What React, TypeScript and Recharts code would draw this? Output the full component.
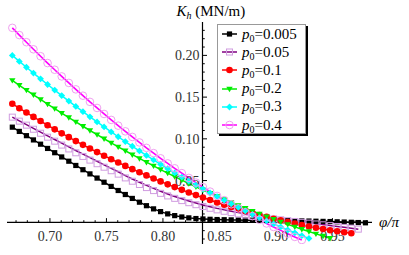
import { LineChart, Line, XAxis, YAxis, ReferenceLine, ReferenceDot, Legend } from 'recharts';

const FONT = '"Liberation Serif", "Times New Roman", serif';

// phi / pi sample positions (one per marker)
const phi = [
  0.6667, 0.6729, 0.6792, 0.6854, 0.6917, 0.6979, 0.7042, 0.7104, 0.7167, 0.7229,
  0.7292, 0.7354, 0.7417, 0.7479, 0.7542, 0.7604, 0.7667, 0.7729, 0.7792, 0.7854,
  0.7917, 0.7979, 0.8042, 0.8104, 0.8167, 0.8229, 0.8292, 0.8354, 0.8417, 0.8479,
  0.8542, 0.8604, 0.8667, 0.8729, 0.8792, 0.8854, 0.8917, 0.8979, 0.9042, 0.9104,
  0.9167, 0.9229, 0.9292, 0.9354, 0.9417, 0.9479, 0.9542, 0.9604, 0.9667, 0.9729, 0.9792,
];

// K_h (MN/m) per p0
const kBlack = [
  0.1140, 0.1089, 0.1038, 0.0987, 0.0936, 0.0885, 0.0834, 0.0783, 0.0732, 0.0681,
  0.0630, 0.0580, 0.0530, 0.0480, 0.0430, 0.0381, 0.0333, 0.0286, 0.0241, 0.0199,
  0.0161, 0.0128, 0.0101, 0.0080, 0.0064, 0.0053, 0.0045, 0.0040, 0.0036, 0.0033,
  0.0031, 0.0029, 0.0027, 0.0026, 0.0025, 0.0024, 0.0023, 0.0022, 0.0021, 0.0020,
  0.0019, 0.0017, 0.0015, 0.0013, 0.0011, 0.0009, 0.0006, 0.0003, 0.0000, -0.0003, -0.0006,
];
const kPurpleLine = [
  0.1260, 0.1215, 0.1170, 0.1125, 0.1080, 0.1036, 0.0992, 0.0948, 0.0904, 0.0860,
  0.0817, 0.0774, 0.0731, 0.0689, 0.0647, 0.0606, 0.0560, 0.0519, 0.0480, 0.0442,
  0.0406, 0.0372, 0.0340, 0.0310, 0.0282, 0.0256, 0.0231, 0.0208, 0.0187, 0.0167,
  0.0149, 0.0132, 0.0116, 0.0101, 0.0087, 0.0074, 0.0062, 0.0050, 0.0039, 0.0028,
  0.0017, 0.0006, -0.0005, -0.0016, -0.0027, -0.0038, -0.0049, -0.0060, -0.0071, -0.0082,
];
const kPurpleDots = [
  0.1260, 0.1212, 0.1164, 0.1115, 0.1067, 0.1020, 0.0972, 0.0925, 0.0879, 0.0833,
  0.0789, 0.0745, 0.0702, 0.0660, 0.0618, 0.0577, 0.0532, 0.0492, 0.0453, 0.0416,
  0.0380, 0.0347, 0.0316, 0.0287, 0.0260, 0.0235, 0.0211, 0.0189, 0.0168, 0.0149,
  0.0132, 0.0116, 0.0101, 0.0087, 0.0074, 0.0062, 0.0051, 0.0040, 0.0030, 0.0020,
  0.0010, 0.0000, -0.0010, -0.0020, -0.0030, -0.0040, -0.0050, -0.0061, -0.0071, -0.0082,
];
const kRed = [
  0.1420, 0.1367, 0.1315, 0.1263, 0.1213, 0.1163, 0.1114, 0.1066, 0.1020, 0.0973,
  0.0928, 0.0884, 0.0841, 0.0798, 0.0756, 0.0716, 0.0676, 0.0637, 0.0599, 0.0562,
  0.0525, 0.0490, 0.0455, 0.0422, 0.0389, 0.0357, 0.0326, 0.0296, 0.0267, 0.0238,
  0.0211, 0.0184, 0.0158, 0.0134, 0.0110, 0.0087, 0.0065, 0.0043, 0.0023, 0.0004,
  -0.0015, -0.0033, -0.0050, -0.0066, -0.0081, -0.0095, -0.0108, -0.0120, -0.0132,
];
const kGreen = [
  0.1700, 0.1642, 0.1584, 0.1528, 0.1472, 0.1416, 0.1362, 0.1308, 0.1255, 0.1203,
  0.1151, 0.1100, 0.1050, 0.1001, 0.0952, 0.0904, 0.0857, 0.0810, 0.0765, 0.0720,
  0.0676, 0.0632, 0.0589, 0.0547, 0.0506, 0.0465, 0.0426, 0.0387, 0.0348, 0.0311,
  0.0274, 0.0238, 0.0202, 0.0168, 0.0134, 0.0100, 0.0068, 0.0036, 0.0005, -0.0025,
  -0.0055, -0.0083, -0.0111, -0.0139, -0.0165, -0.0191,
];
const kCyan = [
  0.2000, 0.1928, 0.1858, 0.1788, 0.1719, 0.1651, 0.1584, 0.1518, 0.1453, 0.1389,
  0.1326, 0.1264, 0.1203, 0.1143, 0.1083, 0.1025, 0.0967, 0.0911, 0.0855, 0.0801,
  0.0747, 0.0695, 0.0643, 0.0592, 0.0542, 0.0493, 0.0445, 0.0398, 0.0352, 0.0307,
  0.0263, 0.0220, 0.0178, 0.0136, 0.0096, 0.0057, 0.0018, -0.0019, -0.0056, -0.0092,
  -0.0126, -0.0160, -0.0193,
];
const kMagenta = [
  0.2330, 0.2243, 0.2158, 0.2073, 0.1990, 0.1908, 0.1828, 0.1748, 0.1670, 0.1593,
  0.1517, 0.1443, 0.1370, 0.1298, 0.1227, 0.1158, 0.1090, 0.1023, 0.0957, 0.0892,
  0.0829, 0.0767, 0.0706, 0.0647, 0.0589, 0.0532, 0.0476, 0.0421, 0.0368, 0.0316,
  0.0265, 0.0216, 0.0167, 0.0120, 0.0074, 0.0030, -0.0014, -0.0056, -0.0097, -0.0136,
  -0.0175, -0.0212,
];

const p0Labels = ['0.005', '0.05', '0.1', '0.2', '0.3', '0.4'];
const xTicks = [0.7, 0.75, 0.8, 0.85, 0.9, 0.95];
const xTickLabels = ['0.70', '0.75', '0.80', '0.85', '0.90', '0.95'];
const yTicks = [0.05, 0.1, 0.15, 0.2];
const yTickLabels = ['0.05', '0.10', '0.15', '0.20'];

const X_ORIGIN = 0.835;
const xMinor = Array.from({ length: 32 }, (_, i) => Math.round((0.67 + i * 0.01) * 100) / 100);
const yMinor = Array.from({ length: 26 }, (_, i) => Math.round((-0.02 + i * 0.01) * 100) / 100);

const data = phi.map((x, i) => ({
  x,
  black: kBlack[i],
  purpleLine: kPurpleLine[i],
  purpleDots: kPurpleDots[i],
  red: kRed[i],
  green: kGreen[i],
  cyan: kCyan[i],
  magenta: kMagenta[i],
}));

type Shape = 'square' | 'openSquare' | 'circle' | 'triangle' | 'diamond' | 'openCircle';

function Marker({ shape, x, y, color }: { shape: Shape; x: number; y: number; color: string }) {
  switch (shape) {
    case 'square':
      return <rect x={x - 2.6} y={y - 2.6} width={5.2} height={5.2} fill={color} />;
    case 'openSquare':
      return <rect x={x - 3} y={y - 3} width={6} height={6} fill="none" stroke={color} strokeWidth={1} />;
    case 'circle':
      return <circle cx={x} cy={y} r={3.3} fill={color} />;
    case 'triangle':
      return <path d={`M${x - 3.2},${y - 2.2}L${x + 3.2},${y - 2.2}L${x},${y + 3.2}Z`} fill={color} />;
    case 'diamond':
      return <path d={`M${x},${y - 3.4}L${x + 3.4},${y}L${x},${y + 3.4}L${x - 3.4},${y}Z`} fill={color} />;
    default:
      return <circle cx={x} cy={y} r={3.8} fill="none" stroke={color} strokeWidth={1} />;
  }
}

const dotFor = (shape: Shape, color: string) => (props: any) => {
  const { cx, cy, index } = props;
  if (cx == null || cy == null || Number.isNaN(cy)) return <g key={index} />;
  return (
    <g key={index}>
      <Marker shape={shape} x={cx} y={cy} color={color} />
    </g>
  );
};

const legendRows = [
  { stroke: '#000000', dot: '#000000', shape: 'square' as Shape },
  { stroke: '#800080', dot: '#d09ce0', shape: 'openSquare' as Shape },
  { stroke: '#ff0000', dot: '#ff0000', shape: 'circle' as Shape },
  { stroke: '#00ee00', dot: '#00ee00', shape: 'triangle' as Shape },
  { stroke: '#00ffff', dot: '#00ffff', shape: 'diamond' as Shape },
  { stroke: '#ff00ff', dot: '#f0a0f0', shape: 'openCircle' as Shape },
];

function LegendBox() {
  return (
    <div
      style={{
        width: 89,
        height: 110,
        boxSizing: 'border-box',
        border: '1px solid #999',
        boxShadow: '2px 2px 0 #000',
        background: '#fff',
        fontFamily: FONT,
        fontSize: 15,
        color: '#000',
      }}
    >
      {legendRows.map((r, i) => (
        <div key={i} style={{ height: 18.2, display: 'flex', alignItems: 'center', whiteSpace: 'nowrap' }}>
          <svg width={24} height={10} style={{ flex: 'none' }}>
            <line x1={4} x2={19} y1={5} y2={5} stroke={r.stroke} strokeWidth={1.5} />
            <Marker shape={r.shape} x={11.5} y={5} color={r.dot} />
          </svg>
          <span>
            <i>p</i>
            <span style={{ fontSize: 10, position: 'relative', top: 3 }}>0</span>={p0Labels[i]}
          </span>
        </div>
      ))}
    </div>
  );
}

export default function App() {
  return (
    <div style={{ position: 'absolute', left: 0, top: 0, width: 409, height: 255, background: '#fff' }}>
      <LineChart width={409} height={255} data={data} margin={{ top: 22, right: 37, bottom: 11, left: 7 }}>
        <XAxis type="number" dataKey="x" domain={[0.662, 0.985]} allowDataOverflow hide />
        <YAxis type="number" domain={[-0.026, 0.24]} allowDataOverflow hide />

        <ReferenceLine
          y={0}
          stroke="#000"
          strokeWidth={1.2}
          label={(p: any) => (
            <text
              x={p.viewBox.x + p.viewBox.width + 7}
              y={p.viewBox.y + 5}
              fontFamily={FONT}
              fontSize={15}
              fontStyle="italic"
              fill="#000"
            >
              φ/π
            </text>
          )}
        />
        <ReferenceLine
          x={X_ORIGIN}
          stroke="#000"
          strokeWidth={1.2}
          label={(p: any) => (
            <text x={p.viewBox.x - 26} y={p.viewBox.y - 6} fontFamily={FONT} fontSize={15} fill="#000">
              <tspan fontStyle="italic">K</tspan>
              <tspan fontStyle="italic" fontSize={10} dy={3}>h</tspan>
              <tspan dy={-3}> (MN/m)</tspan>
            </text>
          )}
        />

        {xMinor.map((v) => {
          const major = xTicks.some((t) => Math.abs(t - v) < 1e-6);
          return (
            <ReferenceLine
              key={`xm${v}`}
              segment={[{ x: v, y: 0 }, { x: v, y: major ? 0.005 : 0.0025 }]}
              stroke="#000"
              strokeWidth={1}
            />
          );
        })}
        {yMinor.map((v) => {
          const major = yTicks.some((t) => Math.abs(t - v) < 1e-6);
          return (
            <ReferenceLine
              key={`ym${v}`}
              segment={[{ x: X_ORIGIN, y: v }, { x: X_ORIGIN + (major ? 0.004 : 0.002), y: v }]}
              stroke="#000"
              strokeWidth={1}
            />
          );
        })}

        {xTicks.map((v, i) => (
          <ReferenceDot
            key={`xl${v}`}
            x={v}
            y={0}
            r={1}
            fill="none"
            stroke="none"
            label={(p: any) => (
              <text
                x={p.viewBox.x + p.viewBox.width / 2}
                y={p.viewBox.y + 20}
                textAnchor="middle"
                fontFamily={FONT}
                fontSize={14}
                fill="#333"
              >
                {xTickLabels[i]}
              </text>
            )}
          />
        ))}
        {yTicks.map((v, i) => (
          <ReferenceDot
            key={`yl${v}`}
            x={X_ORIGIN}
            y={v}
            r={1}
            fill="none"
            stroke="none"
            label={(p: any) => (
              <text
                x={p.viewBox.x - 2}
                y={p.viewBox.y + 1 + 5}
                textAnchor="end"
                fontFamily={FONT}
                fontSize={14}
                fill="#333"
              >
                {yTickLabels[i]}
              </text>
            )}
          />
        ))}

        <Line dataKey="black" stroke="#000000" strokeWidth={1.5} dot={dotFor('square', '#000000')} activeDot={false} isAnimationActive={false} />
        <Line dataKey="purpleLine" stroke="#800080" strokeWidth={1.5} dot={false} activeDot={false} isAnimationActive={false} />
        <Line dataKey="purpleDots" stroke="none" dot={dotFor('openSquare', '#d09ce0')} activeDot={false} isAnimationActive={false} />
        <Line dataKey="red" stroke="#ff0000" strokeWidth={1.5} dot={dotFor('circle', '#ff0000')} activeDot={false} isAnimationActive={false} />
        <Line dataKey="green" stroke="#00ee00" strokeWidth={1.5} dot={dotFor('triangle', '#00ee00')} activeDot={false} isAnimationActive={false} />
        <Line dataKey="cyan" stroke="#00ffff" strokeWidth={1.5} dot={dotFor('diamond', '#00ffff')} activeDot={false} isAnimationActive={false} />
        <Line dataKey="magenta" stroke="#ff00ff" strokeWidth={1.6} dot={dotFor('openCircle', '#f0a0f0')} activeDot={false} isAnimationActive={false} />

        <Legend
          layout="horizontal"
          verticalAlign="middle"
          align="center"
          content={() => <LegendBox />}
          wrapperStyle={{ left: 217, top: 24, width: 92, height: 112 }}
        />
      </LineChart>
    </div>
  );
}
